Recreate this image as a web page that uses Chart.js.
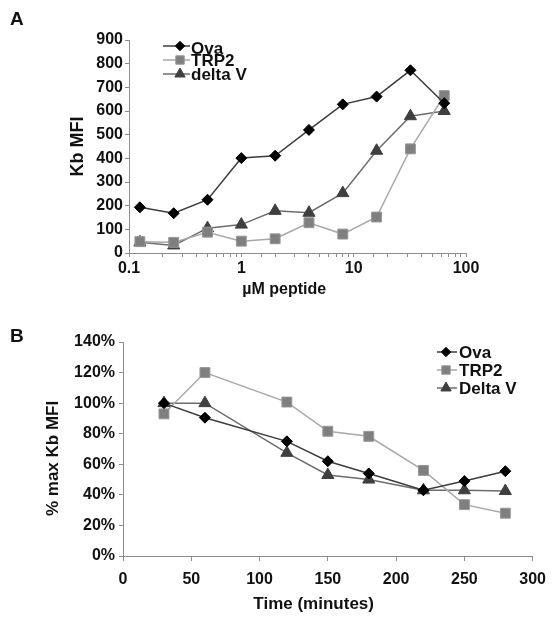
<!DOCTYPE html>
<html>
<head>
<meta charset="utf-8">
<script src="https://cdn.jsdelivr.net/npm/chart.js@4.4.0/dist/chart.umd.min.js"></script>
<style>
    html, body { margin: 0; padding: 0; background: #fff; }
    #wrap { position: relative; width: 555px; height: 618px; overflow: hidden; }
    canvas { position: absolute; left: 0; }
    #chartA { top: 0; }
    #chartB { top: 300px; }
    .panel { position: absolute; left: 10px; font: bold 19px "Liberation Sans", Arial, sans-serif; line-height: 1; color: #111; }
</style>
</head>
<body>
<div id="wrap">
    <canvas id="chartA" width="555" height="300"></canvas>
    <canvas id="chartB" width="555" height="318"></canvas>
    <div class="panel" style="top:9px">A</div>
    <div class="panel" style="top:326px">B</div>
</div>
<script>
// Panel A: Kb MFI vs peptide dose (log x). Panel B: % of max Kb MFI over time.

const DOSES = [0.125, 0.25, 0.5, 1, 2, 4, 8, 16, 32, 64];
const OVA_DOSE = [193, 168, 225, 401, 411, 520, 628, 661, 772, 633];
const TRP2_DOSE = [48, 45, 88, 50, 60, 128, 80, 152, 440, 665];
const DELTAV_DOSE = [45, 32, 105, 120, 178, 170, 253, 432, 578, 600];
const DOSE_LABELS = [0.1, 1, 10, 100];

const TIMES = [30, 60, 120, 150, 180, 220, 250, 280];
const OVA_TIME = [100, 90.5, 75, 62, 54, 43, 49, 55.5];
const TRP2_TIME = [93, 120, 100.7, 81.6, 78.3, 56, 33.6, 28];
const DELTAV_TIME = [100, 100, 67.5, 53, 50, 43, 43, 42.5];

const NAMES_A = ['Ova', 'TRP2', 'delta V'];
const NAMES_B = ['Ova', 'TRP2', 'Delta V'];

const AXIS = '#8c8c8c';
const INK = '#111';

const STYLE = {
    ova: { line: '#3c3c3c', fill: '#000', border: '#000', shape: 'rectRot', r: 5.5 },
    trp2: { line: '#a8a8a8', fill: '#7f7f7f', border: '#979797', shape: 'rect', r: 7 },
    dv: { line: '#6c6c6c', fill: '#3f3f3f', border: '#3f3f3f', shape: 'triangle', r: 7 },
};

Chart.defaults.font.family = "'Liberation Sans', Arial, sans-serif";
Chart.defaults.font.weight = 'bold';
Chart.defaults.color = INK;

function series(label, xs, ys, st) {
    return {
        label,
        data: xs.map((x, i) => ({ x, y: ys[i] })),
        borderColor: st.line,
        borderWidth: 1.5,
        backgroundColor: st.fill,
        pointStyle: st.shape,
        pointRadius: st.r,
        pointHoverRadius: st.r,
        pointBackgroundColor: st.fill,
        pointBorderColor: st.border,
        pointBorderWidth: 1,
        tension: 0,
    };
}

// small legend drawn where the original figure had it (inside the plot)
const inlineLegend = {
    id: 'inlineLegend',
    afterDatasetsDraw(chart, args, opts) {
        const ctx = chart.ctx;
        ctx.save();
        ctx.font = opts.font;
        ctx.textBaseline = 'middle';
        chart.data.datasets.forEach((ds, i) => {
            const y = opts.rows[i];
            ctx.strokeStyle = ds.borderColor;
            ctx.lineWidth = ds.borderWidth;
            ctx.beginPath();
            ctx.moveTo(opts.lineFrom, y);
            ctx.lineTo(opts.lineTo, y);
            ctx.stroke();
            ctx.fillStyle = ds.pointBackgroundColor;
            ctx.strokeStyle = ds.pointBorderColor;
            ctx.lineWidth = 1;
            Chart.helpers.drawPoint(ctx, { pointStyle: ds.pointStyle, radius: ds.pointRadius * 0.85, borderWidth: 1, rotation: 0 }, opts.markerX, y);
            ctx.fillStyle = INK;
            ctx.fillText(ds.label, opts.textX, y + opts.textShift[i]);
        });
        ctx.restore();
    },
};

function axisGrid(len) {
    return { display: true, drawOnChartArea: false, drawTicks: true, tickLength: len, color: AXIS };
}

const isDecade = v => Math.abs(Math.log10(v) - Math.round(Math.log10(v))) < 1e-6;

new Chart(document.getElementById('chartA'), {
    type: 'line',
    data: {
        datasets: [
            series(NAMES_A[0], DOSES, OVA_DOSE, STYLE.ova),
            series(NAMES_A[1], DOSES, TRP2_DOSE, STYLE.trp2),
            series(NAMES_A[2], DOSES, DELTAV_DOSE, STYLE.dv),
        ],
    },
    options: {
        responsive: false,
        animation: false,
        layout: { padding: { top: 40, right: 89, left: 0, bottom: 0 } },
        plugins: {
            legend: { display: false },
            tooltip: { enabled: false },
            inlineLegend: {
                font: "bold 17px 'Liberation Sans', Arial, sans-serif",
                rows: [46, 60, 74], textShift: [3, 1, 1],
                lineFrom: 163, lineTo: 190, markerX: 180, textX: 191,
            },
        },
        scales: {
            x: {
                type: 'logarithmic',
                min: 0.1,
                max: 100,
                grid: axisGrid(4),
                border: { color: AXIS, width: 1 },
                ticks: {
                    autoSkip: false,
                    maxRotation: 0,
                    padding: 2,
                    font: { size: 16 },
                    callback: v => (DOSE_LABELS.some(d => isDecade(v) && Math.abs(d - v) < 1e-9) ? String(v) : ''),
                },
                title: { display: true, text: 'µM peptide      ', font: { size: 16 }, padding: { bottom: 1 } },
                afterFit: s => { s.height = 47; },
            },
            y: {
                min: 0,
                max: 900,
                grid: axisGrid(4),
                border: { color: AXIS, width: 1 },
                ticks: { stepSize: 100, padding: 2, font: { size: 16 } },
                title: { display: true, text: 'Kb MFI', font: { size: 18 }, padding: { top: 67 } },
                afterFit: s => { s.width = 129; },
            },
        },
    },
    plugins: [inlineLegend],
});

new Chart(document.getElementById('chartB'), {
    type: 'line',
    data: {
        datasets: [
            series(NAMES_B[0], TIMES, OVA_TIME, STYLE.ova),
            series(NAMES_B[1], TIMES, TRP2_TIME, STYLE.trp2),
            series(NAMES_B[2], TIMES, DELTAV_TIME, STYLE.dv),
        ],
    },
    options: {
        responsive: false,
        animation: false,
        layout: { padding: { top: 42, right: 18, left: 0, bottom: 0 } },
        plugins: {
            legend: { display: false },
            tooltip: { enabled: false },
            inlineLegend: {
                font: "bold 17px 'Liberation Sans', Arial, sans-serif",
                rows: [52, 70, 88], textShift: [1, 1, 1],
                lineFrom: 437, lineTo: 457, markerX: 446, textX: 459,
            },
        },
        scales: {
            x: {
                type: 'linear',
                min: 0,
                max: 300,
                grid: axisGrid(5),
                border: { color: AXIS, width: 1 },
                ticks: { stepSize: 50, padding: 9, maxRotation: 0, font: { size: 16 } },
                title: { display: true, text: 'Time (minutes)      ', font: { size: 17 }, padding: { bottom: 3 } },
                afterFit: s => { s.height = 62; },
            },
            y: {
                min: 0,
                max: 140,
                grid: axisGrid(4),
                border: { color: AXIS, width: 1 },
                ticks: { stepSize: 20, padding: 4, font: { size: 16 }, callback: v => v + '%' },
                title: { display: true, text: '% max Kb MFI    ', font: { size: 17 }, padding: { top: 43 } },
                afterFit: s => { s.width = 123; },
            },
        },
    },
    plugins: [inlineLegend],
});
</script>
</body>
</html>
